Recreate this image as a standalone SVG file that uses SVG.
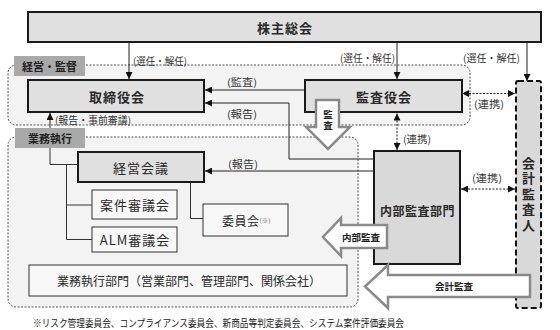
<svg xmlns="http://www.w3.org/2000/svg" width="560" height="330" viewBox="0 0 560 330">
<defs>
<marker id="ah" viewBox="0 0 8 8" refX="8" refY="4" markerWidth="7" markerHeight="7" markerUnits="userSpaceOnUse" orient="auto-start-reverse">
<path d="M0,0 L8,4 L0,8 z" fill="#111"/>
</marker>
<style>
text{font-family:"Noto Sans CJK JP","Noto Sans",sans-serif;fill:#2a2a2a;dominant-baseline:central}
.region{fill:#f3f3f3;stroke:#555;stroke-width:1;stroke-dasharray:2,1.5}
.tag{fill:#a9a9a9;stroke:none}
.tagt{font-size:11px;font-weight:700;text-anchor:middle;fill:#222}
.main{fill:#e0e0e0;stroke:#1a1a1a;stroke-width:2}
.sub{fill:#f8f8f8;stroke:#333;stroke-width:1}
.big{font-size:13px;font-weight:700;text-anchor:middle;letter-spacing:1px}
.mid{font-size:13px;text-anchor:middle;letter-spacing:1px}
.lab{font-size:10px;fill:#333}
.ln{fill:none;stroke:#333;stroke-width:1}
.arr{fill:none;stroke:#222;stroke-width:1;marker-end:url(#ah)}
.dash{fill:none;stroke:#222;stroke-width:1;stroke-dasharray:2,1.5;marker-start:url(#ah);marker-end:url(#ah)}
.block{fill:#fff;stroke:#8a8a8a;stroke-width:2.5;stroke-linejoin:miter}
.blockt{font-size:9.5px;font-weight:700;text-anchor:middle;fill:#222}
.vert{writing-mode:vertical-rl;text-orientation:upright}
</style>
</defs>
<rect width="560" height="330" fill="#fff"/>

<g id="region-keiei">
<rect class="region" x="8" y="65" width="462" height="60" rx="8"/>
<rect class="tag" x="14" y="56" width="71" height="20"/>
<text class="tagt" x="49.5" y="66">経営・監督</text>
</g>
<g id="region-gyomu">
<rect class="region" x="8" y="137" width="350" height="170" rx="8"/>
<rect class="tag" x="15" y="128" width="70" height="20"/>
<text class="tagt" x="50" y="138">業務執行</text>
</g>

<g id="connectors">
<path class="arr" d="M129,43 V79"/>
<path class="arr" d="M397,43 V79"/>
<path class="arr" d="M527,43 V81"/>
<path class="arr" d="M305,90 H205"/>
<path class="arr" d="M374,159 H289 V103 H205"/>
<path class="arr" d="M374,171 H205"/>
<path class="arr" d="M50,128 V113"/>
<path class="dash" d="M397,113.5 V150"/>
<path class="dash" d="M462,93.5 H515"/>
<path class="dash" d="M461,189 H515"/>
<path class="ln" d="M50,148 V164.5 H78"/>
<path class="ln" d="M66.5,164.5 V239.5 H92"/>
<path class="ln" d="M66.5,205 H92"/>
<path class="ln" d="M190.5,182 V218.5 H203"/>
<text class="lab" x="133" y="60" textLength="54" lengthAdjust="spacingAndGlyphs">(選任・解任)</text>
<text class="lab" x="340" y="57" textLength="55" lengthAdjust="spacingAndGlyphs">(選任・解任)</text>
<text class="lab" x="463" y="57" textLength="57" lengthAdjust="spacingAndGlyphs">(選任・解任)</text>
<text class="lab" x="227" y="81" textLength="30" lengthAdjust="spacingAndGlyphs">(監査)</text>
<text class="lab" x="227" y="113" textLength="30" lengthAdjust="spacingAndGlyphs">(報告)</text>
<text class="lab" x="55" y="119" textLength="76" lengthAdjust="spacingAndGlyphs">(報告・事前審議)</text>
<text class="lab" x="228" y="163" textLength="30" lengthAdjust="spacingAndGlyphs">(報告)</text>
<text class="lab" x="403" y="138" textLength="28" lengthAdjust="spacingAndGlyphs">(連携)</text>
<text class="lab" x="474" y="103" textLength="30" lengthAdjust="spacingAndGlyphs">(連携)</text>
<text class="lab" x="472" y="177" textLength="30" lengthAdjust="spacingAndGlyphs">(連携)</text>
</g>

<g id="kabunushi">
<rect class="main" x="28" y="12" width="513" height="30"/>
<text class="big" x="285" y="27">株主総会</text>
</g>
<g id="torishimari">
<rect class="main" x="28" y="80" width="176" height="32"/>
<text class="big" x="117" y="96">取締役会</text>
</g>
<g id="kansayaku">
<rect class="main" x="305" y="80" width="157" height="32"/>
<text class="big" x="384" y="96">監査役会</text>
</g>
<g id="keieikaigi">
<rect class="main" x="78" y="152" width="126" height="30"/>
<text class="mid" x="141" y="167">経営会議</text>
</g>
<g id="anken">
<rect class="sub" x="92" y="190" width="85" height="29"/>
<text class="mid" x="135" y="204.5">案件審議会</text>
</g>
<g id="alm">
<rect class="sub" x="92" y="227" width="85" height="25"/>
<text class="mid" x="135" y="239.5">ALM審議会</text>
</g>
<g id="iinkai">
<rect class="sub" x="203" y="204" width="85" height="32"/>
<text x="222" y="220" style="font-size:12px;letter-spacing:0.5px">委員会<tspan style="font-size:6px;fill:#666">(※)</tspan></text>
</g>
<g id="gyomubumon">
<rect class="sub" x="29" y="265" width="318" height="31"/>
<text x="189" y="280.5" style="font-size:12px;text-anchor:middle">業務執行部門（営業部門、管理部門、関係会社）</text>
</g>
<g id="naibukansa">
<rect class="main" x="374" y="151" width="86" height="113" style="fill:#d9d9d9"/>
<text x="417.5" y="210" style="font-size:12px;font-weight:700;text-anchor:middle;letter-spacing:0.5px">内部監査部門</text>
</g>
<g id="kaikei">
<rect x="516" y="81" width="25" height="227" rx="2" style="fill:#d9d9d9;stroke:#111;stroke-width:2;stroke-dasharray:6,3"/>
<text class="vert" x="528.5" y="195" style="font-size:13px;font-weight:700;text-anchor:middle;letter-spacing:2.5px">会計監査人</text>
</g>

<g id="arrow-kansa">
<polygon class="block" points="316,100 339,100 339,127 350,127 328,149 306,127 316,127"/>
<text class="vert blockt" x="328" y="121" style="letter-spacing:2px">監査</text>
</g>
<g id="arrow-naibu">
<polygon class="block" points="387,225 341,225 341,218 323,237 341,256 341,248 387,248"/>
<text class="blockt" x="361" y="237">内部監査</text>
</g>
<g id="arrow-kaikei">
<polygon class="block" points="530,275 388,275 388,265 365,286.5 388,308 388,297 530,297"/>
<text class="blockt" x="454" y="286">会計監査</text>
</g>

<text x="33" y="322" textLength="371" lengthAdjust="spacingAndGlyphs" style="font-size:10px;fill:#222">※リスク管理委員会、コンプライアンス委員会、新商品等判定委員会、システム案件評価委員会</text>
</svg>
